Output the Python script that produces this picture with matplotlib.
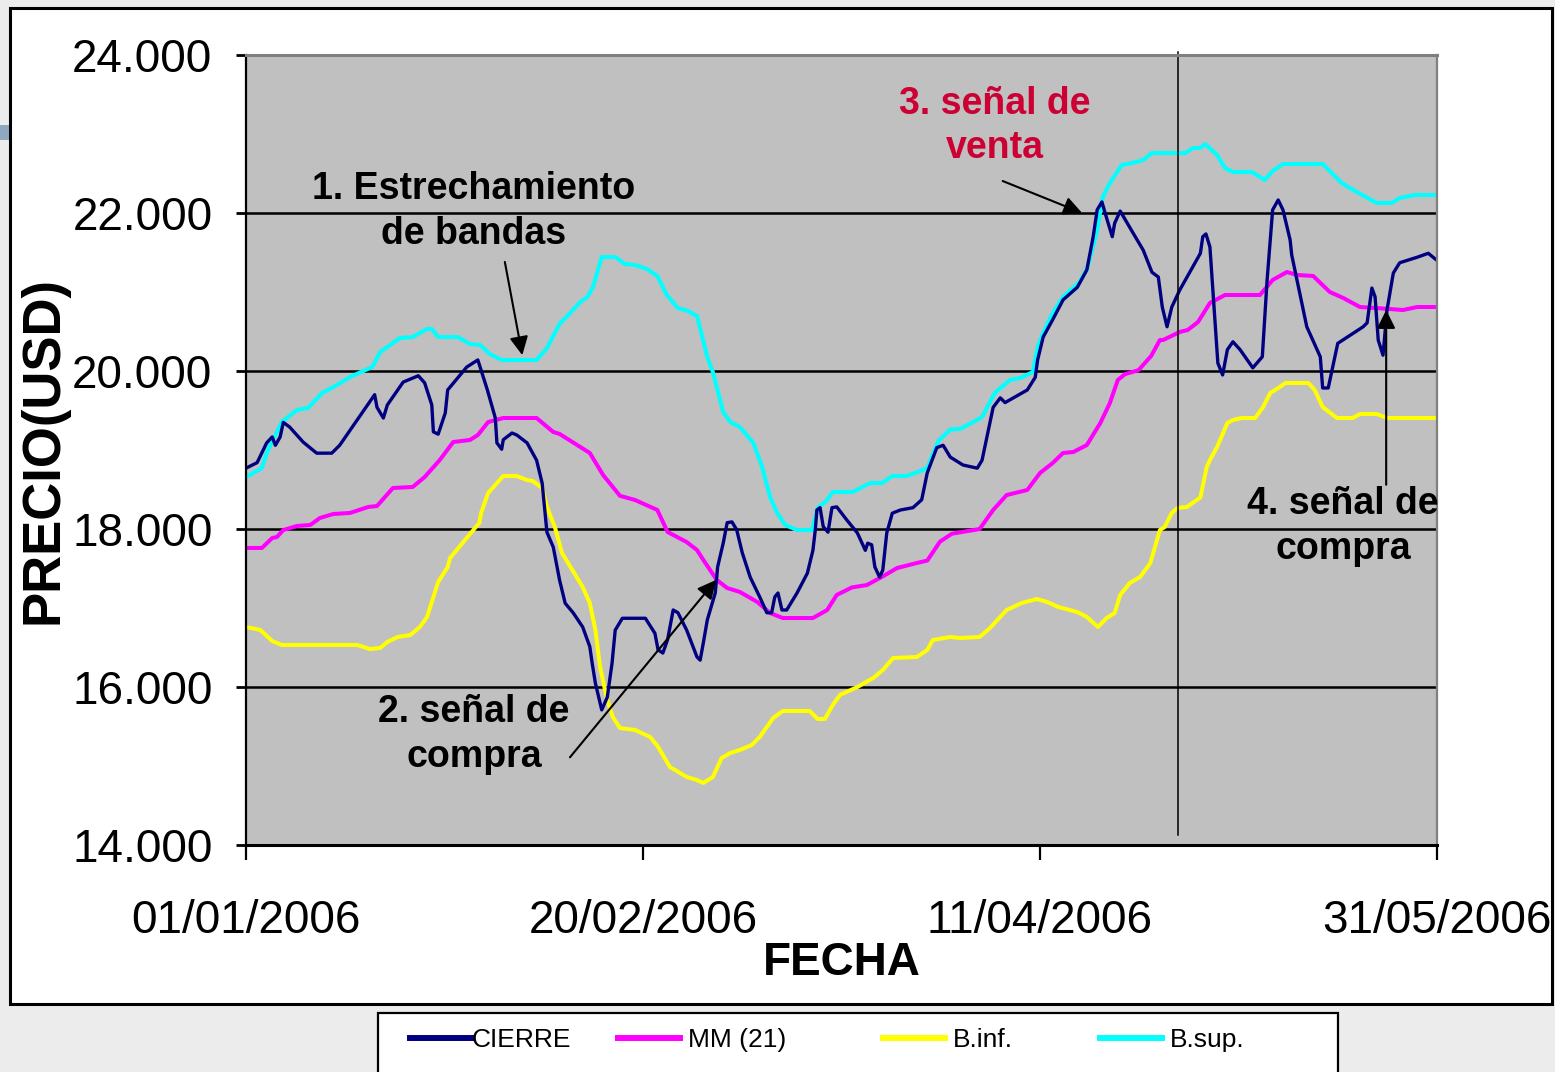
import numpy as np
import pandas as pd
import matplotlib
matplotlib.use("Agg")
import matplotlib.pyplot as plt
import matplotlib.dates as mdates
from matplotlib.patches import Rectangle
from matplotlib.lines import Line2D
from matplotlib import font_manager

# ---------------- data ----------------
inicio = pd.Timestamp("2006-01-01")
fin = pd.Timestamp("2006-05-31")
fechas_ticks = ["2006-01-01", "2006-02-20", "2006-04-11", "2006-05-31"]
y_ticks = [14000, 16000, 18000, 20000, 22000, 24000]

# day offsets from 01/01/2006 and values (USD)
cierre_dia = [0.0, 1.4, 2.6, 3.3, 3.7, 4.3, 4.7, 5.5, 7.2, 8.9, 10.8, 11.8, 16.2, 16.5, 17.3, 17.8,
              19.8, 21.7, 22.5, 23.4, 23.6, 24.2, 25.1, 25.4, 27.8, 29.2, 30.4, 31.4, 31.6, 32.2,
              32.4, 33.5, 34.1, 35.4, 36.6, 37.3, 37.9, 38.7, 39.5, 40.2, 41.2, 42.4, 43.3, 43.6,
              44.0, 44.8, 45.5, 46.1, 46.5, 47.4, 50.3, 51.5, 51.9, 52.5, 53.1, 53.8, 54.4, 55.5,
              56.8, 57.2, 57.6, 58.1, 59.1, 59.4, 60.1, 60.6, 61.2, 61.8, 62.5, 63.5, 64.7, 65.6,
              66.2, 66.6, 67.0, 67.5, 68.1, 69.4, 70.7, 71.4, 71.7, 71.9, 72.3, 72.7, 73.3, 73.8,
              74.4, 75.7, 77.0, 78.0, 78.3, 78.8, 79.2, 79.8, 80.2, 80.7, 81.4, 82.4, 84.0, 85.1,
              85.8, 87.0, 87.8, 88.7, 90.3, 92.1, 92.7, 94.1, 95.0, 95.6, 98.4, 99.4, 99.7, 100.4,
              101.6, 102.9, 104.7, 105.9, 106.7, 107.2, 107.8, 108.2, 109.1, 109.4, 110.1, 111.7,
              113.0, 114.1, 114.9, 115.4, 116.0, 116.6, 117.6, 120.2, 120.5, 120.9, 121.4, 122.4,
              123.0, 123.6, 124.3, 125.2, 126.8, 128.0, 128.6, 129.3, 130.0, 130.6, 131.5, 131.7,
              133.6, 135.3, 135.6, 136.3, 137.5, 140.7, 141.2, 141.8, 142.2, 142.6, 143.2, 143.7,
              144.5, 145.3, 147.5, 148.9, 150.0]
cierre = [18770, 18840, 19090, 19165, 19060, 19165, 19350, 19290, 19100, 18960, 18960, 19060, 19700,
          19540, 19405, 19570, 19860, 19940, 19850, 19570, 19230, 19200, 19470, 19760, 20050, 20140,
          19760, 19405, 19090, 19010, 19130, 19215, 19190, 19090, 18870, 18580, 17960, 17770, 17350,
          17060, 16940, 16760, 16510, 16300, 16050, 15710, 15870, 16300, 16720, 16870, 16870, 16680,
          16470, 16430, 16600, 16975, 16940, 16720, 16380, 16340, 16560, 16850, 17190, 17520, 17820,
          18080, 18090, 17990, 17700, 17390, 17140, 16940, 16940, 17140, 17190, 16975, 16975, 17190,
          17440, 17730, 17990, 18240, 18270, 18030, 17960, 18270, 18280, 18110, 17950, 17730, 17820,
          17800, 17520, 17390, 17480, 17950, 18200, 18240, 18270, 18370, 18710, 19030, 19060, 18910,
          18810, 18770, 18870, 19540, 19660, 19600, 19760, 19920, 20140, 20430, 20650, 20900, 21060,
          21280, 21700, 22040, 22140, 22000, 21700, 21870, 22025, 21750, 21530, 21250, 21190, 20810,
          20560, 20810, 21025, 21490, 21700, 21735, 21570, 20100, 19950, 20270, 20370, 20270, 20040,
          20180, 21150, 22040, 22165, 22040, 21660, 21470, 20560, 20180, 19785, 19785, 20350, 20560,
          20610, 21050, 20940, 20390, 20200, 20770, 21240, 21370, 21440, 21490, 21400]

mm_dia = [0.0, 2.0, 3.3, 3.9, 4.7, 6.4, 8.1, 9.3, 11.0, 13.1, 15.4, 16.5, 18.5, 21.0, 22.5, 24.4,
          26.1, 28.2, 29.2, 30.5, 32.4, 36.6, 38.7, 39.5, 43.3, 45.0, 47.1, 49.0, 51.8, 53.1, 55.5,
          56.8, 57.6, 59.3, 60.6, 62.2, 64.4, 66.0, 67.6, 71.4, 73.2, 74.4, 76.3, 78.2, 80.2, 82.0,
          84.5, 85.8, 87.4, 88.9, 92.4, 94.1, 95.8, 98.4, 100.0, 101.6, 102.9, 104.2, 105.9, 107.6,
          108.8, 109.8, 110.7, 112.4, 114.0, 115.1, 115.5, 117.6, 118.6, 119.9, 121.4, 123.3, 127.7,
          129.3, 131.1, 132.4, 134.4, 136.5, 138.2, 140.3, 142.4, 145.7, 147.5, 150.0]
mm21 = [17760, 17760, 17886, 17899, 17987, 18038, 18051, 18139, 18190, 18203, 18279, 18291, 18519,
        18532, 18658, 18873, 19101, 19127, 19190, 19354, 19405, 19405, 19228, 19203, 18962, 18680,
        18420, 18367, 18241, 17962, 17835, 17734, 17608, 17354, 17253, 17203, 17076, 16937, 16873,
        16873, 16975, 17165, 17260, 17291, 17400, 17506, 17570, 17600, 17840, 17940, 18000, 18241,
        18430, 18494, 18709, 18835, 18962, 18975, 19063, 19342, 19595, 19886, 19960, 20010, 20190,
        20392, 20392, 20494, 20519, 20620, 20861, 20962, 20962, 21152, 21253, 21215, 21203, 21000,
        20924, 20810, 20797, 20772, 20810, 20810]

binf_dia = [0.0, 1.8, 3.3, 4.5, 14.0, 15.6, 16.9, 17.8, 19.1, 20.7, 21.9, 22.8, 24.2, 25.4, 25.7,
            29.4, 29.6, 30.5, 32.4, 34.1, 35.4, 36.1, 37.3, 37.9, 38.9, 39.8, 41.1, 42.4, 43.3, 44.0,
            44.6, 45.5, 46.2, 47.1, 49.0, 50.9, 51.9, 53.4, 55.5, 56.8, 57.6, 58.8, 59.9, 61.0, 62.2,
            63.7, 64.7, 66.4, 67.6, 71.0, 72.0, 72.9, 73.9, 74.8, 77.0, 79.0, 80.2, 81.5, 84.5, 85.8,
            86.5, 88.7, 89.9, 92.4, 93.7, 95.8, 97.7, 99.6, 100.9, 102.3, 104.7, 105.9, 107.3, 108.4,
            109.4, 110.1, 111.3, 112.6, 113.9, 115.1, 115.7, 116.6, 117.3, 118.5, 120.2, 121.0, 121.4,
            122.3, 123.6, 124.3, 125.4, 127.1, 128.1, 129.0, 130.2, 130.9, 133.8, 134.6, 135.6, 137.4,
            139.4, 140.3, 142.4, 143.7, 150.0]
binf = [16760, 16722, 16582, 16532, 16532, 16481, 16494, 16570, 16633, 16658, 16760, 16886, 17329,
        17519, 17633, 18080, 18200, 18456, 18671, 18671, 18620, 18608, 18519, 18279, 18025, 17696,
        17481, 17266, 17063, 16722, 16250, 15835, 15620, 15481, 15456, 15367, 15241, 14987, 14861,
        14823, 14785, 14861, 15101, 15165, 15203, 15266, 15367, 15608, 15696, 15696, 15595, 15595,
        15772, 15899, 16000, 16114, 16215, 16367, 16380, 16468, 16595, 16633, 16620, 16633, 16747,
        16975, 17063, 17114, 17076, 17013, 16949, 16886, 16760, 16873, 16937, 17165, 17316, 17392,
        17570, 17987, 18025, 18203, 18266, 18279, 18400, 18785, 18873, 19038, 19342, 19380, 19405,
        19405, 19544, 19722, 19797, 19848, 19848, 19759, 19544, 19405, 19405, 19456, 19456, 19405,
        19405]

bsup_dia = [0.0, 2.0, 2.6, 4.5, 6.4, 7.8, 9.6, 11.0, 13.1, 15.9, 16.9, 19.4, 21.0, 22.8, 23.4, 24.2,
            26.7, 28.2, 29.5, 30.7, 32.2, 36.6, 37.9, 39.5, 40.4, 42.1, 43.0, 43.7, 44.8, 46.5, 47.7,
            49.0, 50.5, 51.8, 53.0, 54.4, 55.7, 56.8, 58.1, 58.8, 60.1, 61.0, 62.2, 63.9, 65.0, 66.0,
            66.9, 67.9, 69.4, 71.3, 72.0, 73.2, 73.9, 76.4, 78.6, 80.1, 81.4, 83.2, 84.6, 85.8, 87.2,
            88.7, 89.9, 91.6, 92.7, 94.3, 96.2, 97.5, 99.1, 99.7, 100.4, 101.6, 102.9, 105.0, 106.0,
            107.2, 107.9, 108.8, 110.3, 111.6, 113.0, 114.1, 118.3, 119.3, 120.2, 120.8, 122.3, 123.3,
            124.3, 126.7, 128.3, 129.3, 130.6, 135.6, 138.0, 139.9, 142.4, 144.3, 145.3, 147.2, 150.0]
bsup = [18658, 18772, 18962, 19354, 19506, 19532, 19722, 19797, 19924, 20051, 20241, 20418, 20430,
        20532, 20532, 20430, 20430, 20342, 20329, 20215, 20139, 20139, 20291, 20600, 20690, 20873,
        20937, 21063, 21443, 21443, 21354, 21342, 21291, 21203, 20962, 20797, 20759, 20696, 20177,
        19987, 19481, 19354, 19291, 19089, 18785, 18405, 18203, 18051, 17987, 17987, 18266, 18367,
        18468, 18468, 18582, 18582, 18671, 18671, 18722, 18772, 19115, 19260, 19266, 19354, 19418,
        19722, 19886, 19911, 19987, 20304, 20481, 20734, 20937, 21127, 21316, 21785, 22203, 22380,
        22608, 22633, 22671, 22759, 22759, 22823, 22823, 22873, 22734, 22570, 22519, 22519, 22418,
        22532, 22620, 22620, 22380, 22266, 22127, 22127, 22190, 22228, 22228]

series_nombres = ["CIERRE", "MM (21)", "B.inf.", "B.sup."]
series_colores = ["#000080", "#FF00FF", "#FFFF00", "#00FFFF"]

linea_vertical = "2006-04-28 10:00"

# annotations: (text, text position (day, value), arrow tail, arrow head, colour)
anot_textos = ["1. Estrechamiento\nde bandas", "2. señal de\ncompra", "3. señal de\nventa",
               "4. señal de\ncompra"]
anot_texto_pos = [(28.7, 22020), (28.7, 15400), (94.3, 23100), (138.2, 18030)]
anot_cola = [(32.6, 21380), (40.8, 15110), (95.3, 22405), (143.6, 18560)]
anot_punta = [(34.8, 20200), (59.2, 17355), (105.3, 22000), (143.6, 20772)]
anot_colores = ["black", "black", "#CC0033", "black"]

# ---------------- fonts ----------------
nombres = {f.name for f in font_manager.fontManager.ttflist}
narrow = "Liberation Sans Narrow" in nombres
fam_tick = ["Liberation Sans Narrow", "Liberation Sans"] if narrow else ["Liberation Sans"]
tick_size = 38 if narrow else 33
plt.rcParams["font.family"] = ["Liberation Sans", "DejaVu Sans"]


def to_dates(d):
    return inicio + pd.to_timedelta(np.asarray(d, dtype=float), unit="D")


W, H = 1555, 1072
fig = plt.figure(figsize=(W / 100, H / 100), dpi=100)
fig.patch.set_facecolor("#ECECEC")

# chart box and legend box (figure decorations)
fig.patches.append(Rectangle((0, 1 - 140 / H), 10 / W, 15 / H, transform=fig.transFigure,
                             facecolor="#8FA8C2", edgecolor="none", zorder=-2))
fig.patches.append(Rectangle((10 / W, 1 - 1004 / H), 1542 / W, 996 / H, transform=fig.transFigure,
                             facecolor="white", edgecolor="black", linewidth=2.2, zorder=-2))
fig.patches.append(Rectangle((378 / W, -0.02), 960 / W, 0.02 + 1 - 1013 / H, transform=fig.transFigure,
                             facecolor="white", edgecolor="black", linewidth=1.6, zorder=-2))

ax = fig.add_axes([246 / W, 1 - 845 / H, 1191 / W, 790 / H])
ax.set_zorder(1)
ax.set_facecolor("#C0C0C0")

ax.plot(to_dates(bsup_dia), bsup, color=series_colores[3], lw=2.9, zorder=3)
ax.plot(to_dates(binf_dia), binf, color=series_colores[2], lw=2.9, zorder=3)
ax.plot(to_dates(mm_dia), mm21, color=series_colores[1], lw=2.9, zorder=3)
ax.plot(to_dates(cierre_dia), cierre, color=series_colores[0], lw=2.4, zorder=4)

xv = pd.Timestamp(linea_vertical)
ax.plot([xv, xv], [14130, 24040], color="black", lw=1.1, clip_on=False, zorder=5)

ax.set_xlim(inicio, fin)
ax.set_ylim(14000, 24000)
ax.set_yticks(y_ticks)
ax.yaxis.set_major_formatter(plt.FuncFormatter(lambda v, p: f"{v:,.0f}".replace(",", ".")))
ax.set_xticks(pd.to_datetime(fechas_ticks))
ax.xaxis.set_major_formatter(mdates.DateFormatter("%d/%m/%Y"))

ax.grid(axis="y", color="black", lw=1.8, zorder=1)
ax.set_axisbelow(True)
for s, c, w in [("left", "black", 1.6), ("bottom", "black", 2.2), ("top", "#808080", 2.2), ("right", "#808080", 1.6)]:
    ax.spines[s].set_color(c)
    ax.spines[s].set_linewidth(w)
    ax.spines[s].set_zorder(6)

ax.tick_params(axis="y", length=7.2, width=2.0, pad=17, labelsize=tick_size)
ax.tick_params(axis="x", length=10.8, width=1.6, pad=28, labelsize=tick_size)
for lab in ax.get_xticklabels() + ax.get_yticklabels():
    lab.set_family(fam_tick)

ax.set_xlabel("FECHA", fontsize=39 if narrow else 33, fontweight="bold", family=fam_tick)
ax.xaxis.set_label_coords(0.5, -(941 - 845) / 790)
ax.set_ylabel("PRECIO(USD)", fontsize=38, fontweight="bold")
ax.yaxis.set_label_coords((68 - 246) / 1191, 0.5)

for txt, tp, cola, punta, col in zip(anot_textos, anot_texto_pos, anot_cola, anot_punta, anot_colores):
    ax.text(inicio + pd.Timedelta(days=tp[0]), tp[1], txt, ha="center", va="center",
            fontsize=27, fontweight="bold", color=col, zorder=7, linespacing=1.3)
    ax.annotate("", xy=(inicio + pd.Timedelta(days=punta[0]), punta[1]),
                xytext=(inicio + pd.Timedelta(days=cola[0]), cola[1]),
                arrowprops=dict(arrowstyle="-|>", color="black", lw=1.5, mutation_scale=28,
                                shrinkA=0, shrinkB=0), zorder=7)

# legend (four entries placed as in the original)
leg_x = [410, 618, 883, 1100]
for nombre, color, lx in zip(series_nombres, series_colores, leg_x):
    h = Line2D([], [], color=color, lw=4.3)
    lg = fig.legend([h], [nombre], loc="center left", bbox_to_anchor=(lx / W, 1 - 1040 / H),
                    frameon=False, fontsize=19, handlelength=62 / 26.4,
                    handletextpad=0.0 if nombre == "CIERRE" else 0.3,
                    borderpad=0, borderaxespad=0)

fig.savefig("out.png", dpi=100, facecolor=fig.get_facecolor())
